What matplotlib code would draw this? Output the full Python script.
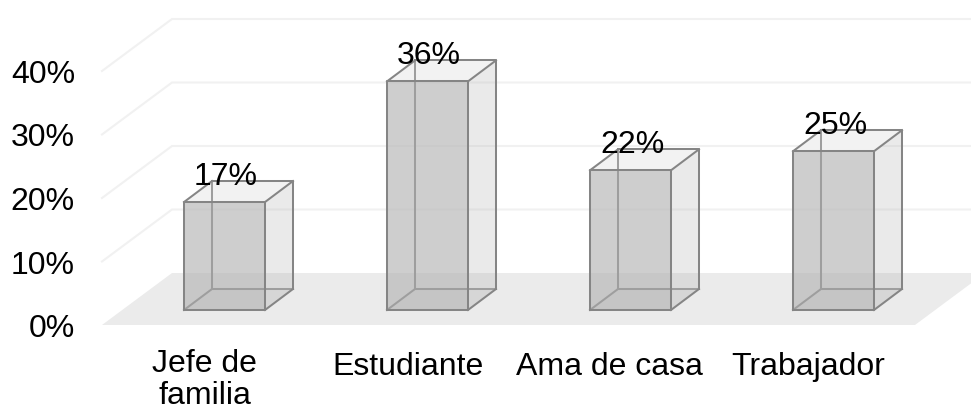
import matplotlib
matplotlib.use("Agg")
import matplotlib.pyplot as plt
from matplotlib.patches import Polygon

plt.rcParams["font.family"] = ["Liberation Sans", "DejaVu Sans"]

categories = ["Jefe de\nfamilia", "Estudiante", "Ama de casa", "Trabajador"]
values = [17, 36, 22, 25]
value_labels = ["17%", "36%", "22%", "25%"]
axis_ticks = [0, 10, 20, 30, 40]
label_shift_px = [-20, -20, -21, -25]

WIDTH, HEIGHT = 971, 412
X_ORIGIN, X_UNIT = 224.5, 203.0   # pixels: first category centre, category spacing
Y_ORIGIN, Y_UNIT = 310.0, 6.35    # pixels: bar base, one percentage point
FONT_SIZE = 23


def sx(px):
    return px / X_UNIT


def sy(px):
    return px / Y_UNIT


fig = plt.figure(figsize=(WIDTH / 100, HEIGHT / 100), dpi=100, facecolor="white")
ax = fig.add_axes([0, 0, 1, 1])
ax.set_xlim(-X_ORIGIN / X_UNIT, (WIDTH - X_ORIGIN) / X_UNIT)
ax.set_ylim((Y_ORIGIN - HEIGHT) / Y_UNIT, Y_ORIGIN / Y_UNIT)
ax.axis("off")

# Floor and wall geometry of the 3D chart box
floor_front = sy(-15)
floor_back = sy(37)
left_front = sx(102 - X_ORIGIN)
left_back = sx(172 - X_ORIGIN)
right_front = sx(915 - X_ORIGIN)
right_back = sx(985 - X_ORIGIN)

ax.add_patch(Polygon(
    [(left_front, floor_front), (right_front, floor_front),
     (right_back, floor_back), (left_back, floor_back)],
    closed=True, facecolor="#ebebeb", edgecolor="none", zorder=1))

for tick in axis_ticks[1:]:
    ax.plot([left_front, left_back, right_back],
            [floor_front + tick, floor_back + tick, floor_back + tick],
            color="#f1f1f1", lw=1.5, zorder=2, solid_joinstyle="miter")

for tick in axis_ticks:
    ax.text(sx(75 - X_ORIGIN), floor_front + tick - sy(12), f"{tick}%",
            ha="right", va="baseline", fontsize=FONT_SIZE, color="black", zorder=8)

# Translucent boxes, one per category
half = sx(40.5)
depth_x = sx(28)
depth_y = sy(21)
EDGE = "#858585"
BACK_EDGE = "#9e9e9e"
LW = 1.45

for i, value in enumerate(values):
    x0, x1 = i - half, i + half
    dx, dy = depth_x, depth_y
    ax.add_patch(Polygon([(x0, 0), (x1, 0), (x1 + dx, dy), (x0 + dx, dy)],
                         closed=True, facecolor="#e4e4e4",
                         edgecolor="none", zorder=3))
    ax.add_patch(Polygon([(x1, 0), (x1 + dx, dy), (x1 + dx, value + dy), (x1, value)],
                         closed=True, facecolor="#afafaf", alpha=0.25,
                         edgecolor="none", zorder=3))
    ax.add_patch(Polygon([(x0, value), (x1, value), (x1 + dx, value + dy), (x0 + dx, value + dy)],
                         closed=True, facecolor="#f2f2f2",
                         edgecolor="none", zorder=3))
    ax.add_patch(Polygon([(x0, 0), (x1, 0), (x1, value), (x0, value)],
                         closed=True, facecolor="#b5b5b5", alpha=0.65,
                         edgecolor="none", zorder=4))
    # Hidden edges, seen through the faces
    ax.plot([x0 + dx, x0 + dx], [dy, value + dy], color=BACK_EDGE, lw=LW, zorder=5)
    ax.plot([x0, x0 + dx, x1 + dx], [0, dy, dy], color=BACK_EDGE, lw=LW, zorder=5)
    # Visible edges
    ax.plot([x0 + dx, x1 + dx, x1 + dx], [value + dy, value + dy, dy],
            color=EDGE, lw=LW, zorder=6, solid_joinstyle="round")
    ax.plot([x0, x0 + dx], [value, value + dy], color=EDGE, lw=LW, zorder=6)
    ax.plot([x1, x1 + dx], [value, value + dy], color=EDGE, lw=LW, zorder=6)
    ax.plot([x1, x1 + dx], [0, dy], color=EDGE, lw=LW, zorder=6)
    ax.plot([x0, x1, x1, x0, x0], [0, 0, value, value, 0], color=EDGE, lw=LW, zorder=6)

    ax.text(i + sx(1.5), value + sy(17.5), value_labels[i], ha="center", va="baseline",
            fontsize=FONT_SIZE, color="black", zorder=9)

    # Baseline of the last line; a wrapped label grows downward from the shared first line
    extra_lines = categories[i].count("\n")
    baseline_px = 375 + 29.5 * extra_lines
    ax.text(i + sx(label_shift_px[i]), sy(Y_ORIGIN - baseline_px), categories[i],
            ha="center", va="baseline", fontsize=FONT_SIZE, color="black",
            zorder=9, linespacing=1.1)

fig.savefig("out.png", dpi=100, facecolor="white")
